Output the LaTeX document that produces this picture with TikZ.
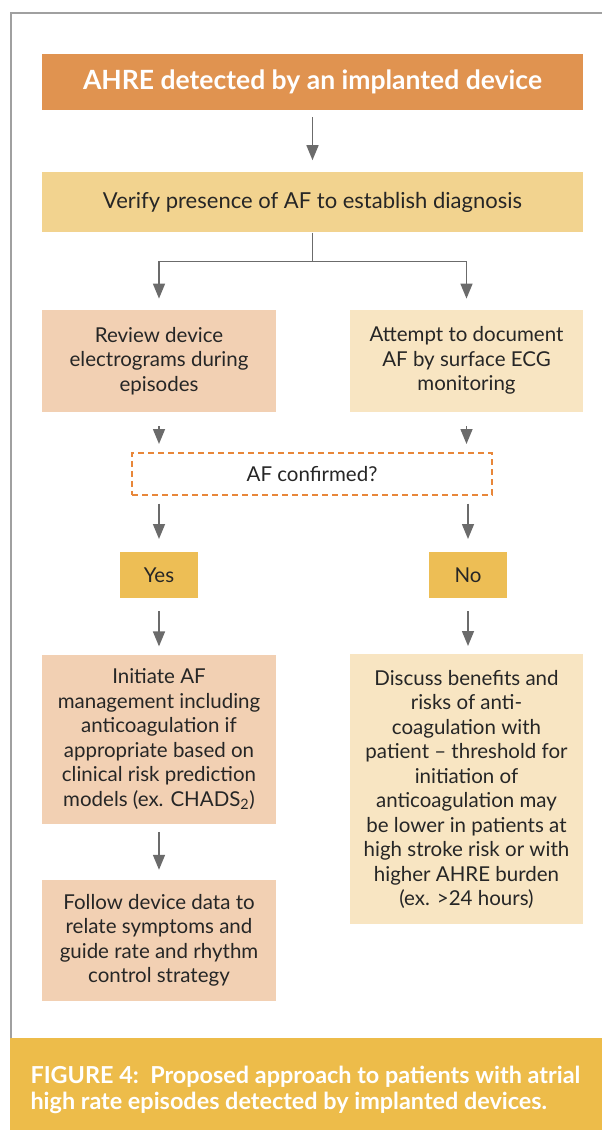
\documentclass[tikz,border=0pt]{standalone}
\usepackage{fontspec}
\setmainfont{Lato}
\usetikzlibrary{arrows.meta,calc,positioning}
\definecolor{AHREOrange}{HTML}{E09350}
\definecolor{VerifyGold}{HTML}{F2D38F}
\definecolor{PeachBox}{HTML}{F2D0B3}
\definecolor{CreamBox}{HTML}{F8E5C2}
\definecolor{ChoiceGold}{HTML}{EDBE55}
\definecolor{CaptionGold}{HTML}{EDBC4A}
\definecolor{DashOrange}{HTML}{E8873A}
\definecolor{ArrowGrey}{HTML}{6B6B6B}
\definecolor{FrameGrey}{HTML}{A0A0A0}
\definecolor{InkGrey}{HTML}{262626}

\begin{document}
\begin{tikzpicture}[
      headbox/.style={fill=AHREOrange,text=white,minimum width=541pt,minimum height=56pt,align=center,font=\fontsize{26.5}{30}\selectfont\bfseries},
      verifybox/.style={fill=VerifyGold,text=InkGrey,minimum width=541pt,minimum height=60pt,align=center,font=\fontsize{22}{26}\selectfont},
      peach/.style={fill=PeachBox,text=InkGrey,minimum width=234pt,align=center,font=\fontsize{20.5}{24.5}\selectfont},
      cream/.style={peach,fill=CreamBox,minimum width=233pt},
      ask/.style={draw=DashOrange,line width=1.5pt,dash pattern=on 6pt off 4pt,minimum width=360pt,minimum height=42pt,text=InkGrey,font=\fontsize{20.5}{24.5}\selectfont},
      choice/.style={fill=ChoiceGold,text=InkGrey,minimum width=78pt,minimum height=46pt,font=\fontsize{20.5}{24.5}\selectfont},
      arrow/.style={-{Triangle[length=15pt,width=12pt]},draw=ArrowGrey,line width=1.5pt},
      link/.style={draw=ArrowGrey,line width=1.5pt}
    ]
      \useasboundingbox (0,0) rectangle (602pt,-1130pt);

      % frame and caption band
      \draw[FrameGrey,line width=1.5pt] (11pt,-1038pt) |- (602pt,-13pt);
      \fill[CaptionGold] (10pt,-1038pt) rectangle (602pt,-1130pt);
      \node[anchor=north west,text=white,align=left,font=\fontsize{23.4}{26}\selectfont\bfseries] (caption) at (27pt,-1063pt)
        {FIGURE 4:\ \ Proposed approach to patients with atrial\\high rate episodes detected by implanted devices.};

      % boxes
      \node[headbox] (ahre) at (312.5pt,-82pt) {AHRE detected by an implanted device};
      \node[verifybox,below=62pt of ahre] (verify) {Verify presence of AF to establish diagnosis};
      \node[peach,minimum height=102pt,below=77pt of verify.south west,anchor=north west] (review) {Review device\\electrograms during\\episodes};
      \node[cream,minimum height=102pt,below=77pt of verify.south east,anchor=north east] (attempt) {Attempt to document\\AF by surface ECG\\monitoring};
      \node[ask,anchor=north] (confirm) at (312pt,-452pt) {AF confirmed?};
      \node[choice,anchor=north] (yes) at (159pt,-552pt) {Yes};
      \node[choice,anchor=north] (no) at (468pt,-552pt) {No};
      \node[peach,minimum height=169pt,below=56pt of yes] (initiate) {Initiate AF\\management including\\anticoagulation if\\appropriate based on\\clinical risk prediction\\models (ex. CHADS\textsubscript{2})};
      \node[peach,minimum height=121pt,below=56pt of initiate] (follow) {Follow device data to\\relate symptoms and\\guide rate and rhythm\\control strategy};
      \node[cream,minimum height=270pt,anchor=north] (discuss) at ($(attempt.south)+(0,-242pt)$) {Discuss benefits and\\risks of anti-\\coagulation with\\patient -- threshold for\\initiation of\\anticoagulation may\\be lower in patients at\\high stroke risk or with\\higher AHRE burden\\(ex. >24 hours)};

      % connectors
      \coordinate (split) at ($(verify.south)+(0,-29pt)$);
      \draw[arrow,shorten <=7pt,shorten >=12pt] (ahre) -- (verify);
      \draw[link] (verify.south) -- (split);
      \draw[arrow,shorten >=11pt] (split) -| (review.north);
      \draw[arrow,shorten >=11pt] (split) -| (attempt.north);
      \draw[arrow,shorten <=14pt,shorten >=8pt] (review.south) -- (review.south |- confirm.north);
      \draw[arrow,shorten <=14pt,shorten >=8pt] (attempt.south) -- (attempt.south |- confirm.north);
      \draw[arrow,shorten <=8pt,shorten >=13pt] (yes |- confirm.south) -- (yes.north);
      \draw[arrow,shorten <=8pt,shorten >=13pt] (no |- confirm.south) -- (no.north);
      \draw[arrow,shorten <=13pt,shorten >=8pt] (yes) -- (initiate);
      \draw[arrow,shorten <=8pt,shorten >=10pt] (initiate) -- (follow);
      \draw[arrow,shorten <=13pt,shorten >=8pt] (no.south) -- (no.south |- discuss.north);
    \end{tikzpicture}
\end{document}
